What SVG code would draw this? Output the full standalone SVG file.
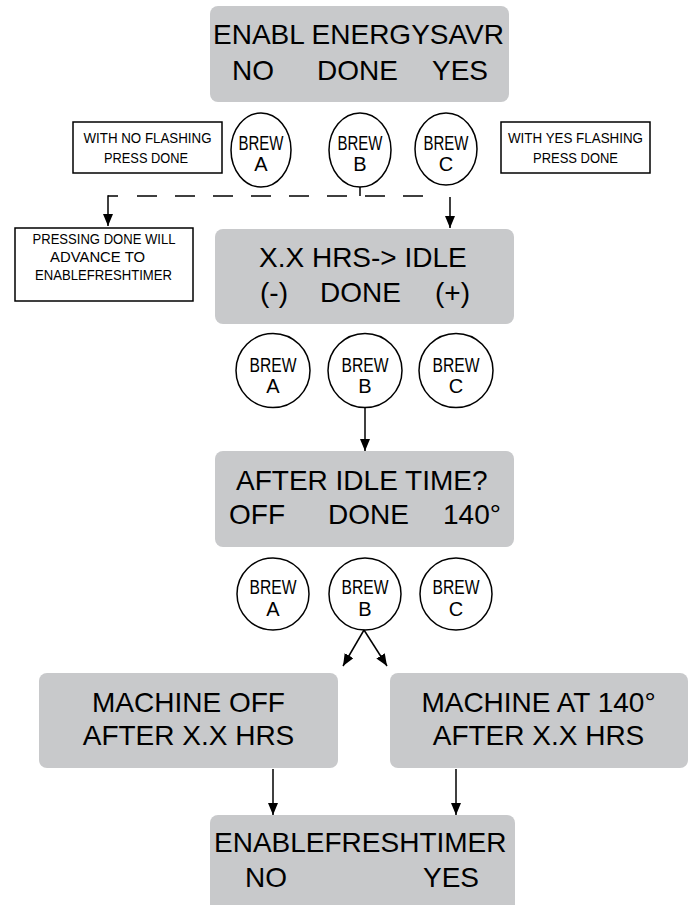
<svg xmlns="http://www.w3.org/2000/svg" width="689" height="905" viewBox="0 0 689 905">
<style>
.lcd{fill:#c8c9cb;stroke:none}
.big{font-family:"Liberation Sans",Arial,sans-serif;font-size:28px;fill:#000}
.mid{text-anchor:middle}
.note{fill:#fff;stroke:#000;stroke-width:1.5}
.sm{font-family:"Liberation Sans",Arial,sans-serif;font-size:14px;fill:#000;text-anchor:middle}
.btn{fill:#fff;stroke:#000;stroke-width:1.5}
.bt{font-family:"Liberation Sans",Arial,sans-serif;font-size:20px;fill:#000;text-anchor:middle}
.ln{stroke:#000;stroke-width:1.5;fill:none}
</style>
<defs>
<marker id="ah" markerUnits="userSpaceOnUse" markerWidth="12" markerHeight="14" viewBox="0 0 12 14" refX="12" refY="5" orient="auto">
<path d="M0,0 L12,5 L0,10 Z" fill="#000"/>
</marker>
</defs>
<rect x="0" y="0" width="689" height="905" fill="#fff"/>

<g id="lcd-energysavr">
<rect class="lcd" x="210" y="6" width="299" height="96" rx="8"/>
<text class="big" x="213" y="44">ENABL ENERGYSAVR</text>
<text class="big" x="232" y="80">NO</text>
<text class="big" x="317" y="80">DONE</text>
<text class="big" x="432" y="80">YES</text>
</g>

<g id="note-no">
<rect class="note" x="73" y="122" width="149" height="51"/>
<text class="sm" x="147.5" y="143" textLength="128" lengthAdjust="spacingAndGlyphs">WITH NO FLASHING</text>
<text class="sm" x="146" y="163" textLength="84" lengthAdjust="spacingAndGlyphs">PRESS DONE</text>
</g>
<g id="note-yes">
<rect class="note" x="501" y="122" width="149" height="51"/>
<text class="sm" x="575.5" y="143" textLength="135" lengthAdjust="spacingAndGlyphs">WITH YES FLASHING</text>
<text class="sm" x="575.5" y="163" textLength="85" lengthAdjust="spacingAndGlyphs">PRESS DONE</text>
</g>

<g id="brew-a-1">
<ellipse class="btn" cx="261" cy="150" rx="30" ry="37"/>
<text class="bt" x="261" y="150" textLength="45" lengthAdjust="spacingAndGlyphs">BREW</text>
<text class="bt" x="261" y="171">A</text>
</g>
<g id="brew-b-1">
<ellipse class="btn" cx="360" cy="150" rx="31" ry="37"/>
<text class="bt" x="360" y="150" textLength="45" lengthAdjust="spacingAndGlyphs">BREW</text>
<text class="bt" x="360" y="171">B</text>
</g>
<g id="brew-c-1">
<ellipse class="btn" cx="446" cy="149" rx="31" ry="36"/>
<text class="bt" x="446" y="150" textLength="45" lengthAdjust="spacingAndGlyphs">BREW</text>
<text class="bt" x="446" y="171">C</text>
</g>

<g id="note-advance">
<rect class="note" x="15" y="228" width="178" height="73"/>
<text class="sm" x="104" y="244" textLength="143" lengthAdjust="spacingAndGlyphs">PRESSING DONE WILL</text>
<text class="sm" x="97.5" y="262" textLength="95" lengthAdjust="spacingAndGlyphs">ADVANCE TO</text>
<text class="sm" x="103.5" y="280" textLength="137" lengthAdjust="spacingAndGlyphs">ENABLEFRESHTIMER</text>
</g>

<g id="lcd-idle-hrs">
<rect class="lcd" x="215" y="229" width="299" height="95" rx="8"/>
<text class="big" x="259" y="267">X.X HRS-&gt; IDLE</text>
<text class="big" x="260" y="302">(-)</text>
<text class="big" x="320" y="302">DONE</text>
<text class="big" x="435" y="302">(+)</text>
</g>

<g id="brew-a-2">
<circle class="btn" cx="273" cy="370.5" r="37"/>
<text class="bt" x="273" y="372" textLength="47" lengthAdjust="spacingAndGlyphs">BREW</text>
<text class="bt" x="273" y="393">A</text>
</g>
<g id="brew-b-2">
<circle class="btn" cx="365" cy="370.5" r="37"/>
<text class="bt" x="365" y="372" textLength="47" lengthAdjust="spacingAndGlyphs">BREW</text>
<text class="bt" x="365" y="393">B</text>
</g>
<g id="brew-c-2">
<circle class="btn" cx="456" cy="370.5" r="37"/>
<text class="bt" x="456" y="372" textLength="47" lengthAdjust="spacingAndGlyphs">BREW</text>
<text class="bt" x="456" y="393">C</text>
</g>

<g id="lcd-after-idle">
<rect class="lcd" x="215" y="451" width="299" height="96" rx="8"/>
<text class="big" x="236" y="490">AFTER IDLE TIME?</text>
<text class="big" x="229" y="524">OFF</text>
<text class="big" x="328" y="524">DONE</text>
<text class="big" x="443" y="524">140°</text>
</g>

<g id="brew-a-3">
<circle class="btn" cx="273" cy="594" r="36"/>
<text class="bt" x="273" y="594" textLength="47" lengthAdjust="spacingAndGlyphs">BREW</text>
<text class="bt" x="273" y="616">A</text>
</g>
<g id="brew-b-3">
<circle class="btn" cx="365" cy="594" r="36"/>
<text class="bt" x="365" y="594" textLength="47" lengthAdjust="spacingAndGlyphs">BREW</text>
<text class="bt" x="365" y="616">B</text>
</g>
<g id="brew-c-3">
<circle class="btn" cx="456" cy="594" r="36"/>
<text class="bt" x="456" y="594" textLength="47" lengthAdjust="spacingAndGlyphs">BREW</text>
<text class="bt" x="456" y="616">C</text>
</g>

<g id="lcd-machine-off">
<rect class="lcd" x="39" y="673" width="299" height="95" rx="8"/>
<text class="big mid" x="188.5" y="712">MACHINE OFF</text>
<text class="big mid" x="188.5" y="745">AFTER X.X HRS</text>
</g>
<g id="lcd-machine-140">
<rect class="lcd" x="390" y="673" width="298" height="95" rx="8"/>
<text class="big mid" x="538.5" y="712">MACHINE AT 140°</text>
<text class="big mid" x="538.5" y="745">AFTER X.X HRS</text>
</g>

<g id="lcd-freshtimer">
<rect class="lcd" x="210" y="815" width="305" height="100" rx="8"/>
<text class="big" x="214" y="852">ENABLEFRESHTIMER</text>
<text class="big" x="245" y="887">NO</text>
<text class="big" x="423" y="887">YES</text>
</g>

<g id="connectors">
<line class="ln" x1="108" y1="196" x2="438" y2="196" stroke-dasharray="10 19 20 18 20 18 20 18 20 18 20 18 20 18 20 18 20 18"/>
<line class="ln" x1="360" y1="187" x2="360" y2="196"/>
<line class="ln" x1="108" y1="195.25" x2="108" y2="226" marker-end="url(#ah)"/>
<line class="ln" x1="450" y1="197" x2="450" y2="228" marker-end="url(#ah)"/>
<line class="ln" x1="365" y1="407.5" x2="365" y2="451" marker-end="url(#ah)"/>
<line class="ln" x1="364" y1="630" x2="343" y2="666" marker-end="url(#ah)"/>
<line class="ln" x1="364" y1="630" x2="387" y2="666" marker-end="url(#ah)"/>
<line class="ln" x1="273" y1="769" x2="273" y2="815" marker-end="url(#ah)"/>
<line class="ln" x1="456" y1="769" x2="456" y2="815" marker-end="url(#ah)"/>
</g>
</svg>
